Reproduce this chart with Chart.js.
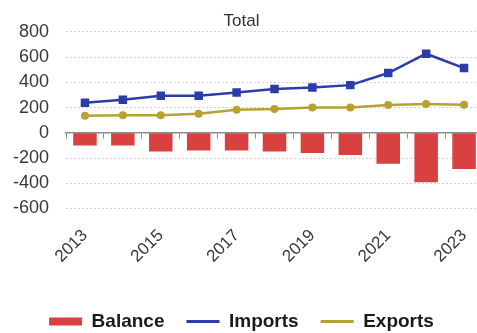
<!DOCTYPE html>
<html><head><meta charset="utf-8">
<script src="https://cdn.jsdelivr.net/npm/chart.js@4"></script>
<style>html,body{margin:0;padding:0;background:#fff;overflow:hidden;width:477px;height:333px}
#wrap{width:483px;height:333px;position:relative}</style>
</head><body><div id="wrap"><canvas id="c"></canvas></div>
<script>
const categories = ['2013','2014','2015','2016','2017','2018','2019','2020','2021','2022','2023'];
const balance = [-101,-101,-148,-140,-140,-148,-161,-175,-246,-391,-286];
const imports = [238,262,294,294,320,347,360,378,474,627,513];
const exportsData = [135,140,140,151,183,188,201,201,220,228,222];
const yMin = -600, yMax = 800, yStep = 200;

const FONT = "'Liberation Sans', Arial, sans-serif";
Chart.defaults.font.family = FONT;

new Chart(document.getElementById('c'), {
  data: {
    labels: categories,
    datasets: [
      { type: 'bar', label: 'Balance', data: balance, backgroundColor: '#D8413F',
        barPercentage: 0.62, categoryPercentage: 1.0 },
      { type: 'line', label: 'Imports', data: imports, borderColor: '#2B3DA8', backgroundColor: '#2B3DA8',
        borderWidth: 2.5, pointStyle: 'rect', pointRadius: 6, pointBackgroundColor: '#2B3DA8', pointBorderWidth: 0, tension: 0 },
      { type: 'line', label: 'Exports', data: exportsData, borderColor: '#B9A034', backgroundColor: '#B9A034',
        borderWidth: 2.5, pointStyle: 'circle', pointRadius: 4, pointBackgroundColor: '#B9A034', pointBorderWidth: 0, tension: 0 }
    ]
  },
  options: {
    responsive: true, maintainAspectRatio: false, animation: false,
    layout: { autoPadding: false, padding: { left: 0, right: 0, top: 0, bottom: -8 } },
    plugins: {
      tooltip: { enabled: false },
      title: { display: true, text: 'Total', color: '#333', font: { size: 17, weight: 'normal' }, padding: { top: 11.5, bottom: 0 } },
      legend: {
        position: 'bottom',
        labels: {
          usePointStyle: true, pointStyleWidth: 33, boxHeight: 8, padding: 22,
          color: '#1a1a1a', font: { size: 19, weight: 'bold' },
          generateLabels(chart) {
            const items = Chart.defaults.plugins.legend.labels.generateLabels(chart);
            items.forEach(it => {
              const ds = chart.data.datasets[it.datasetIndex];
              if (ds.type === 'line') { it.pointStyle = 'line'; it.lineWidth = 3; it.strokeStyle = ds.borderColor; }
              else { it.pointStyle = 'rect'; it.lineWidth = 0; }
            });
            return items;
          }
        }
      }
    },
    scales: {
      x: {
        offset: true,
        grid: { display: false }, border: { display: false },
        afterFit(s) { s.height = 81.5; s.paddingLeft = 0; s.paddingRight = 0; },
        ticks: { autoSkip: false, minRotation: 45, maxRotation: 45, padding: 9, color: '#383838', font: { size: 17 },
          callback(v, i) { return i % 2 === 0 ? categories[i] : ''; } }
      },
      x2: {
        type: 'category', labels: categories, position: { y: 0 }, offset: true,
        grid: { offset: true, drawOnChartArea: false, drawTicks: true, tickLength: 5, color: '#8c8c8c' },
        border: { display: true, color: '#8c8c8c', width: 1.5 },
        ticks: { display: false },
        afterFit(s) { s.paddingLeft = 0; s.paddingRight = 0; }
      },
      y: {
        min: yMin, max: yMax,
        afterFit(s) { s.width = 66; },
        ticks: { stepSize: yStep, padding: 17, color: '#383838', font: { size: 18 } },
        grid: { color: '#d4d4d4', drawTicks: false, lineWidth: 1 },
        border: { display: false, dash: [2, 2] }
      }
    }
  }
});
</script></body></html>
